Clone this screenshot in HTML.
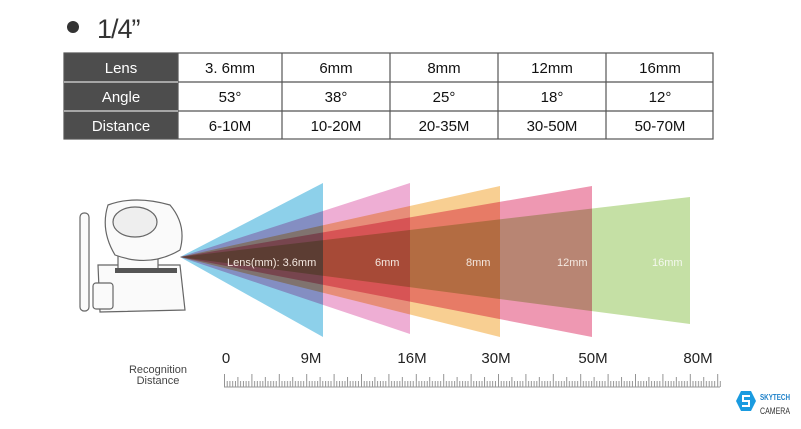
<!DOCTYPE html>
<html><head><meta charset="utf-8"><style>
html,body{margin:0;padding:0;background:#fff;}
body{width:801px;height:429px;overflow:hidden;position:relative;font-family:"Liberation Sans",sans-serif;}
</style></head><body>
<svg width="801" height="429" viewBox="0 0 801 429" xmlns="http://www.w3.org/2000/svg" style="position:absolute;left:0;top:0">
<defs>
<pattern id="rul" x="224" y="0" width="27.4" height="429" patternUnits="userSpaceOnUse">
<g stroke="#888" stroke-width="0.9">
<line x1="0.5" y1="374" x2="0.5" y2="387"/>
<line x1="13.9" y1="377" x2="13.9" y2="387"/>
<line x1="3.2" y1="381" x2="3.2" y2="387"/>
<line x1="5.9" y1="381" x2="5.9" y2="387"/>
<line x1="8.7" y1="381" x2="8.7" y2="387"/>
<line x1="11.4" y1="381" x2="11.4" y2="387"/>
<line x1="16.6" y1="381" x2="16.6" y2="387"/>
<line x1="19.4" y1="381" x2="19.4" y2="387"/>
<line x1="22.1" y1="381" x2="22.1" y2="387"/>
<line x1="24.8" y1="381" x2="24.8" y2="387"/>
</g>
</pattern>
</defs>
<circle cx="73" cy="27" r="6" fill="#333"/>
<text x="97" y="38" font-size="27" fill="#333" letter-spacing="-1">1/4”</text>
<rect x="64" y="53" width="114" height="86" fill="#4d4d4d"/>
<g stroke="#555" stroke-width="1.2" fill="none">
<rect x="64" y="53" width="649" height="86"/>
<line x1="178" y1="82" x2="713" y2="82"/>
<line x1="178" y1="111" x2="713" y2="111"/>
<line x1="178" y1="53" x2="178" y2="139"/>
<line x1="282" y1="53" x2="282" y2="139"/>
<line x1="390" y1="53" x2="390" y2="139"/>
<line x1="498" y1="53" x2="498" y2="139"/>
<line x1="606" y1="53" x2="606" y2="139"/>
</g>
<line x1="64" y1="82" x2="178" y2="82" stroke="#fff" stroke-width="1"/>
<line x1="64" y1="111" x2="178" y2="111" stroke="#fff" stroke-width="1"/>
<g font-size="15" fill="#fff" text-anchor="middle">
<text x="121" y="73">Lens</text><text x="121" y="102">Angle</text><text x="121" y="131">Distance</text>
</g>
<g font-size="15" fill="#111" text-anchor="middle">
<text x="230" y="73">3. 6mm</text><text x="336" y="73">6mm</text><text x="444" y="73">8mm</text><text x="552" y="73">12mm</text><text x="660" y="73">16mm</text>
<text x="230" y="102">53°</text><text x="336" y="102">38°</text><text x="444" y="102">25°</text><text x="552" y="102">18°</text><text x="660" y="102">12°</text>
<text x="230" y="131">6-10M</text><text x="336" y="131">10-20M</text><text x="444" y="131">20-35M</text><text x="552" y="131">30-50M</text><text x="660" y="131">50-70M</text>
</g>
<g>
<polygon points="180,257 690,197 690,324" fill="#c5e0a5" style="mix-blend-mode:multiply"/>
<polygon points="180,257 592,186 592,337" fill="#ee98b2" style="mix-blend-mode:multiply"/>
<polygon points="180,257 500,186 500,337" fill="#f8cf92" style="mix-blend-mode:multiply"/>
<polygon points="180,257 410,183 410,334" fill="#eeaed4" style="mix-blend-mode:multiply"/>
<polygon points="180,257 323,183 323,337" fill="#8dd0ea" style="mix-blend-mode:multiply"/>
</g>
<g font-size="11" fill="#f4e8e0">
<text x="227" y="266">Lens(mm): 3.6mm</text>
<text x="375" y="266">6mm</text>
<text x="466" y="266">8mm</text>
<text x="557" y="266">12mm</text>
<text x="652" y="266" fill="#f4f8ee">16mm</text>
</g>
<g fill="#fafafa" stroke="#666" stroke-width="1.2">
<rect x="80" y="213" width="9" height="98" rx="4"/>
<path d="M98,265 L180,265 L185,310 L100,312 Z"/>
<rect x="93" y="283" width="20" height="26" rx="3"/>
<rect x="118" y="245" width="40" height="25"/>
<path d="M108,205 Q135,195 170,205 Q187,225 180,250 Q150,268 115,255 Q100,230 108,205 Z"/>
<ellipse cx="135" cy="222" rx="22" ry="15" fill="#eee"/>
</g>
<rect x="115" y="268" width="62" height="5" fill="#555"/>
<g font-size="15" fill="#222" text-anchor="middle">
<text x="226" y="363">0</text><text x="311" y="363">9M</text><text x="412" y="363">16M</text><text x="496" y="363">30M</text><text x="593" y="363">50M</text><text x="698" y="363">80M</text>
</g>
<g font-size="11" fill="#444" text-anchor="middle">
<text x="158" y="373">Recognition</text><text x="158" y="384">Distance</text>
</g>
<rect x="224" y="370" width="497" height="18" fill="url(#rul)"/>
<line x1="224" y1="387" x2="720" y2="387" stroke="#999" stroke-width="1"/>
<path d="M741,391 L751,391 L756,401 L751,411 L741,411 L736,401 Z" fill="#1a9be0"/>
<path d="M750,396 L743,396 L743,401 L749,401 L749,406 L742,406" stroke="#fff" stroke-width="2" fill="none"/>
<text x="760" y="400" font-size="8" font-weight="bold" fill="#1a7fc8" textLength="30" lengthAdjust="spacingAndGlyphs">SKYTECH</text>
<text x="760" y="414" font-size="9" fill="#333" textLength="30" lengthAdjust="spacingAndGlyphs">CAMERA</text>
</svg>
</body></html>
